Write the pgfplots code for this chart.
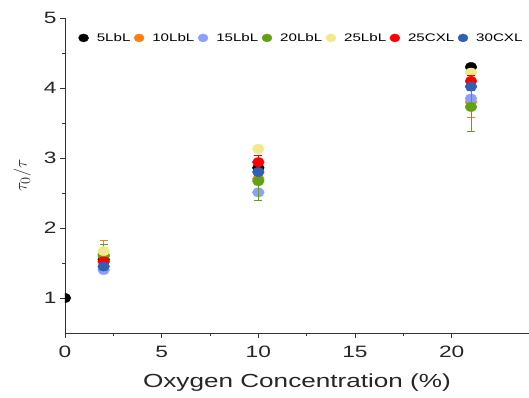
\documentclass[border=0pt]{standalone}
\usepackage{pgfplots}
\pgfplotsset{compat=1.18}
\usepackage{fontspec}
\setmainfont{Liberation Sans}[FakeStretch=1.38]
\definecolor{cblack}{RGB}{0,0,0}
\definecolor{corange}{RGB}{255,127,14}
\definecolor{clblue}{RGB}{140,160,250}
\definecolor{cgreen}{RGB}{100,160,20}
\definecolor{cyellow}{RGB}{242,232,140}
\definecolor{cred}{RGB}{255,0,0}
\definecolor{cblue}{RGB}{50,95,175}
\pgfplotsset{
  ser/.style={only marks, mark=*, mark size=4.6bp, color=#1,
    mark options={draw=#1, fill=#1, xscale=1.28},
    error bars/.cd, y dir=both, y explicit,
    error bar style={draw=#1, line width=0.9pt},
    error mark options={rotate=90, mark size=4bp, draw=#1, line width=0.9pt}},
}
\begin{document}
\begin{tikzpicture}
\begin{axis}[
  name=ax,
  scale only axis,
  width=464bp, height=315bp,
  xmin=0, xmax=24, ymin=0.5, ymax=5,
  axis x line*=bottom, axis y line*=left,
  axis line style={-, line width=0.8pt, black!80},
  xtick={0,5,10,15,20}, ytick={1,2,3,4,5},
  minor tick num=1,
  tick align=outside,
  major tick length=5bp, minor tick length=3bp,
  tick style={line width=0.8pt, black!80},
  /pgf/number format/assume math mode=true,
  tick label style={font=\fontsize{16.5}{19}\selectfont, text=black!85},
  xticklabel style={yshift=-5bp},
  xlabel={Oxygen Concentration (\%)},
  xlabel style={font=\fontsize{19}{22}\selectfont, text=black!85, yshift=-9bp},
  ylabel={$\tau_0/\tau$},
  ylabel style={font=\fontsize{19}{22}\selectfont, text=black!85, yshift=6bp},
  clip=true, clip marker paths=true,
  legend columns=7,
  legend style={at={(0.022,0.965)}, anchor=north west, draw=none, fill=none,
    font=\fontsize{11}{13}\selectfont, column sep=6bp,
    /tikz/every even column/.append style={column sep=1.5bp}},
  legend image code/.code={\filldraw[#1] (0bp,0bp) ellipse (5bp and 4bp);},
]
\addplot[ser=cblack] table[x=x,y=y,y error=e] {
x y e
0 1 0
2 1.55 0.05
10 2.86 0.05
21 4.30 0.03
};
\addlegendentry{5LbL}
\addplot[ser=corange] table[x=x,y=y,y error=e] {
x y e
2 1.62 0.20
10 2.70 0.08
21 3.80 0.22
};
\addlegendentry{10LbL}
\addplot[ser=clblue] table[x=x,y=y,y error=e] {
x y e
2 1.40 0.04
10 2.51 0.12
21 3.85 0.05
};
\addlegendentry{15LbL}
\addplot[ser=cgreen] table[x=x,y=y,y error=e] {
x y e
2 1.60 0.17
10 2.67 0.27
21 3.73 0.35
};
\addlegendentry{20LbL}
\addplot[ser=cyellow] table[x=x,y=y,y error=e] {
x y e
2 1.67 0.05
10 3.13 0.05
21 4.22 0.05
};
\addlegendentry{25LbL}
\addplot[ser=cred] table[x=x,y=y,y error=e] {
x y e
2 1.52 0.06
10 2.94 0.10
21 4.10 0.08
};
\addlegendentry{25CXL}
\addplot[ser=cblue] table[x=x,y=y,y error=e] {
x y e
2 1.45 0.04
10 2.80 0.05
21 4.02 0.05
};
\addlegendentry{30CXL}
\end{axis}
\pgfresetboundingbox
\path ([shift={(-65bp,-65bp)}]ax.south west) rectangle ([shift={(0bp,18bp)}]ax.north east);
\end{tikzpicture}
\end{document}
